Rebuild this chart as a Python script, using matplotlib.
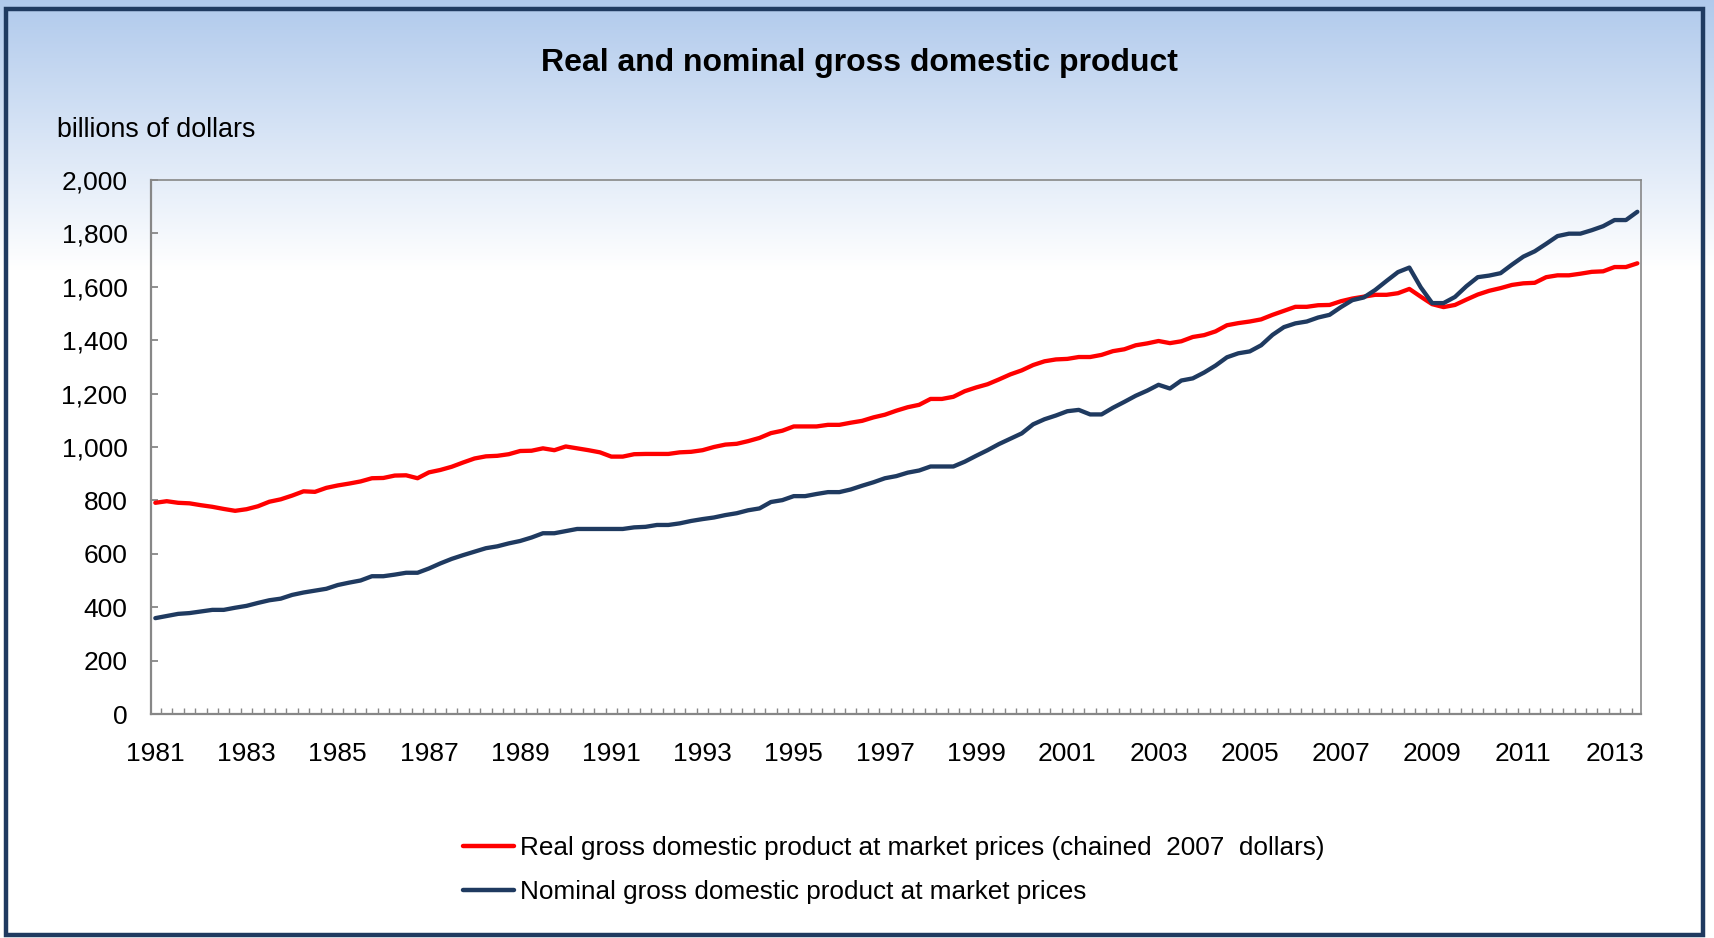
import matplotlib
matplotlib.use("Agg")
import matplotlib.pyplot as plt
import numpy as np
from matplotlib.patches import Rectangle
from matplotlib.ticker import FuncFormatter, FixedLocator

plt.rcParams['font.family'] = ['Liberation Sans', 'DejaVu Sans']

# Quarterly categories 1981Q1 .. 2013Q3
quarters = [f"{y}Q{q}" for y in range(1981, 2014) for q in range(1, 5)][:131]

real_gdp = [
    791, 797, 791, 789, 782, 776, 768, 761, 767, 778, 795, 804, 818, 834, 832, 847, 856, 863, 871, 883, 884, 893, 894, 883, 905, 914,
    926, 942, 957, 965, 967, 973, 985, 986, 995, 988, 1002, 995, 988, 980, 964, 964, 973, 974, 974, 974, 980, 982, 988, 1000, 1009, 1012,
    1022, 1034, 1052, 1061, 1077, 1077, 1077, 1083, 1083, 1091, 1098, 1111, 1121, 1136, 1149, 1158, 1180, 1180, 1188, 1209, 1223, 1235, 1253, 1272, 1287, 1307,
    1321, 1328, 1330, 1337, 1337, 1345, 1359, 1366, 1381, 1388, 1397, 1389, 1396, 1412, 1419, 1433, 1456, 1464, 1470, 1478, 1495, 1510, 1525, 1525, 1531, 1532,
    1546, 1556, 1563, 1570, 1570, 1576, 1592, 1563, 1535, 1524, 1532, 1552, 1571, 1585, 1595, 1607, 1613, 1615, 1636, 1643, 1643, 1649, 1656, 1658, 1674, 1674, 1688,
]

nominal_gdp = [
    359, 367, 375, 378, 384, 390, 390, 398, 405, 416, 426, 432, 446, 455, 462, 469, 483, 492, 500, 516, 516, 522, 529, 529, 545, 564,
    581, 595, 608, 621, 628, 639, 648, 661, 677, 677, 685, 693, 693, 693, 693, 693, 699, 701, 708, 708, 714, 723, 730, 736, 745, 752,
    763, 770, 794, 801, 816, 816, 824, 831, 831, 841, 855, 868, 883, 891, 904, 912, 927, 927, 927, 945, 967, 988, 1011, 1031, 1051, 1085,
    1104, 1118, 1134, 1139, 1122, 1122, 1147, 1169, 1192, 1211, 1233, 1219, 1249, 1257, 1279, 1305, 1336, 1351, 1358, 1381, 1420, 1449, 1463, 1470, 1485, 1495,
    1524, 1550, 1560, 1588, 1622, 1655, 1672, 1598, 1539, 1539, 1562, 1602, 1636, 1642, 1651, 1683, 1713, 1733, 1761, 1790, 1799, 1799, 1812, 1827, 1850, 1850, 1881,
]

year_labels = ["1981", "1983", "1985", "1987", "1989", "1991", "1993", "1995", "1997",
               "1999", "2001", "2003", "2005", "2007", "2009", "2011", "2013"]

series_names = ["Real gross domestic product at market prices (chained  2007  dollars)",
                "Nominal gross domestic product at market prices"]

RED = "#ff0000"
NAVY = "#1f3a60"
GRAY = "#878787"

W, H = 1715, 938
fig = plt.figure(figsize=(W / 100, H / 100), dpi=100)

# background gradient
bg = fig.add_axes([0, 0, 1, 1], zorder=-10)
rows = np.arange(H)
t = np.clip(rows / 270.0, 0, 1)
top = np.array([0.69, 0.79, 0.925])
white = np.array([1.0, 1.0, 1.0])
grad = (1 - t)[:, None] * top[None, :] + t[:, None] * white[None, :]
img = np.repeat(grad[:, None, :], 4, axis=1)
bg.imshow(img, aspect='auto', extent=[0, 1, 0, 1], origin='upper')
bg.set_xlim(0, 1)
bg.set_ylim(0, 1)
bg.axis('off')

# outer frame
frame = Rectangle((6 / W, 1 - 935 / H), (1703 - 6) / W, (935 - 9) / H,
                  transform=fig.transFigure, fill=False, edgecolor=NAVY, linewidth=3.2, zorder=-5)
fig.add_artist(frame)

# main axes
L, R, T, B = 151, 1641, 180, 714
ax = fig.add_axes([L / W, 1 - B / H, (R - L) / W, (B - T) / H])
ax.set_facecolor('none')

x = np.arange(len(quarters))
ax.plot(x, real_gdp, color=RED, linewidth=3.1, solid_joinstyle='round', solid_capstyle='round', label=series_names[0])
ax.plot(x, nominal_gdp, color=NAVY, linewidth=3.1, solid_joinstyle='round', solid_capstyle='round', label=series_names[1])

ax.set_xlim(-0.38, len(quarters) - 1 + 0.32)
ax.set_ylim(0, 2000)

ax.set_yticks(np.arange(0, 2001, 200))
ax.yaxis.set_major_formatter(FuncFormatter(lambda v, p: f"{int(v):,}"))
ax.tick_params(axis='y', direction='in', length=5, width=1.3, color=GRAY, labelsize=19, pad=17)

ax.xaxis.set_major_locator(FixedLocator([quarters.index(y + "Q1") for y in year_labels]))
ax.set_xticklabels(year_labels)
ax.xaxis.set_minor_locator(FixedLocator(np.arange(0.5, len(quarters) - 1, 1.0)))
ax.tick_params(axis='x', which='major', length=0, labelsize=19, pad=20.5)
ax.tick_params(axis='x', which='minor', direction='in', length=4.5, width=1.0, color=GRAY)

for side in ['left', 'bottom']:
    ax.spines[side].set_color(GRAY)
    ax.spines[side].set_linewidth(1.6)
for side in ['top', 'right']:
    ax.spines[side].set_color(GRAY)
    ax.spines[side].set_linewidth(1.2)

fig.text(859 / W, 1 - 63 / H, "Real and nominal gross domestic product", ha='center', va='center',
         fontsize=23.0, fontweight='bold', color='black')
fig.text(57 / W, 1 - 130 / H, "billions of dollars", ha='left', va='center', fontsize=19.4, color='black')

handles, labels = ax.get_legend_handles_labels()
leg = fig.legend(handles, labels, loc='upper left', bbox_to_anchor=(463 / W, 1 - 836 / H),
                 frameon=False, fontsize=18.8, handlelength=1.97, handletextpad=0.22, labelspacing=0.76,
                 borderaxespad=0, borderpad=0)
for line in leg.get_lines():
    line.set_linewidth(3.2)

fig.savefig("out.png", dpi=100)
